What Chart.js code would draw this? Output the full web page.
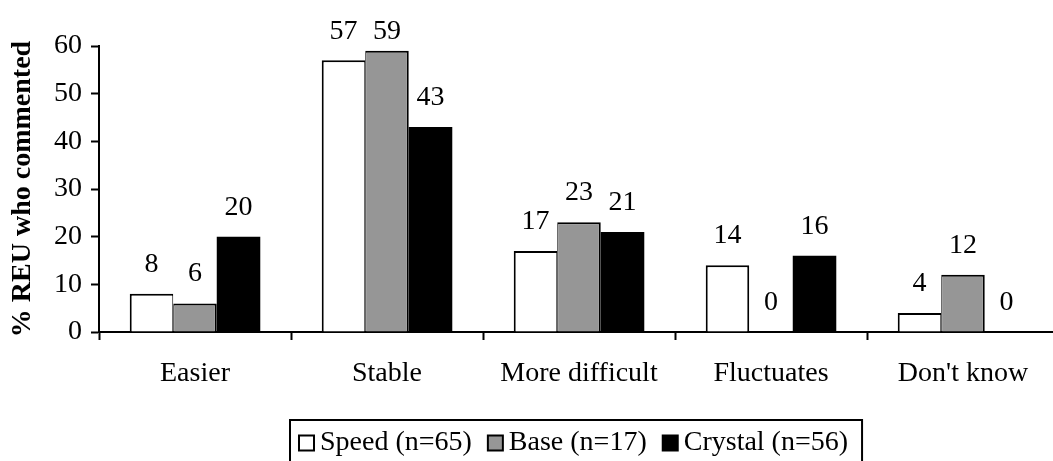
<!DOCTYPE html>
<html>
<head>
<meta charset="utf-8">
<script src="https://cdn.jsdelivr.net/npm/chart.js@4/dist/chart.umd.min.js"></script>
<style>
  html, body { margin: 0; padding: 0; background: #fff; overflow: hidden; }
  #wrap { position: relative; width: 1070px; height: 461px; }
</style>
</head>
<body>
<div id="wrap"><canvas id="c" width="1070" height="461"></canvas></div>
<script>
const categories = ['Easier', 'Stable', 'More difficult', 'Fluctuates', "Don't know"];
const speed = [8, 57, 17, 14, 4];
const base = [6, 59, 23, 0, 12];
const crystal = [20, 43, 21, 16, 0];
const seriesNames = ['Speed (n=65)', 'Base (n=17)', 'Crystal (n=56)'];
const yTicks = [0, 10, 20, 30, 40, 50, 60];
const axisTitle = '% REU who commented';

const FONT = '"Liberation Serif", "Times New Roman", serif';
const FS = 28;
const COLORS = ['#ffffff', '#969696', '#000000'];

// Value labels above each bar (kept inside the top of the canvas)
const valueLabels = {
  id: 'valueLabels',
  afterDatasetsDraw(chart) {
    const ctx = chart.ctx;
    ctx.save();
    ctx.font = FS + 'px ' + FONT;
    ctx.fillStyle = '#000';
    ctx.textAlign = 'center';
    ctx.textBaseline = 'alphabetic';
    chart.data.datasets.forEach((ds, i) => {
      chart.getDatasetMeta(i).data.forEach((el, j) => {
        const y = Math.max(el.y - 22, 39);
        ctx.fillText(String(ds.data[j]), el.x, y);
      });
    });
    ctx.restore();
  }
};

// Boxed legend under the plot
const boxLegend = {
  id: 'boxLegend',
  afterDraw(chart) {
    const ctx = chart.ctx;
    ctx.save();
    ctx.font = FS + 'px ' + FONT;
    const sq = 17, gapSq = 5, gapItem = 15, padL = 8, padR = 14;
    const widths = seriesNames.map(t => ctx.measureText(t).width);
    let content = 0;
    widths.forEach((w, i) => { content += sq + gapSq + w + (i < widths.length - 1 ? gapItem : 0); });
    const boxW = content + padL + padR;
    const left = 290, top = 420, cy = 443;
    ctx.strokeStyle = '#000';
    ctx.lineWidth = 2;
    ctx.strokeRect(left, top, boxW, 60);
    let x = left + padL;
    chart.data.datasets.forEach((ds, i) => {
      ctx.fillStyle = ds.backgroundColor;
      ctx.fillRect(x + 1, cy - sq / 2 + 1, sq - 2, sq - 2);
      ctx.lineWidth = 2;
      ctx.strokeStyle = '#000';
      ctx.strokeRect(x + 1, cy - sq / 2 + 1, sq - 2, sq - 2);
      x += sq + gapSq;
      ctx.fillStyle = '#000';
      ctx.textAlign = 'left';
      ctx.textBaseline = 'middle';
      ctx.fillText(seriesNames[i], x, cy);
      x += widths[i] + gapItem;
    });
    ctx.restore();
  }
};

new Chart(document.getElementById('c'), {
  type: 'bar',
  data: {
    labels: categories,
    datasets: [
      {
        label: seriesNames[0], data: speed, backgroundColor: COLORS[0], borderColor: '#000',
        borderSkipped: false,
        borderWidth: c => speed[c.dataIndex] === 0 ? 0 :
          { top: 2, left: 2, bottom: 0, right: base[c.dataIndex] === 0 ? 2 : 1 }
      },
      {
        label: seriesNames[1], data: base, backgroundColor: COLORS[1], borderColor: '#000',
        borderSkipped: false,
        borderWidth: c => base[c.dataIndex] === 0 ? 0 :
          { top: 2, left: speed[c.dataIndex] === 0 ? 2 : 1, bottom: 0, right: 2 }
      },
      {
        label: seriesNames[2], data: crystal, backgroundColor: COLORS[2], borderColor: '#000',
        borderWidth: 0
      }
    ]
  },
  options: {
    responsive: false,
    animation: false,
    devicePixelRatio: 1,
    layout: { padding: { left: 0, top: 46, right: 11, bottom: 0 } },
    datasets: { bar: { categoryPercentage: 0.68, barPercentage: 1 } },
    plugins: { legend: { display: false }, tooltip: { enabled: false } },
    scales: {
      x: {
        afterFit(s) { s.height = 461 - 332; },
        grid: { offset: true, drawOnChartArea: false, tickLength: 8, tickWidth: 2, tickColor: '#000' },
        border: { color: '#000', width: 2 },
        ticks: { color: '#000', padding: 17, maxRotation: 0, autoSkip: false, font: { family: FONT, size: FS } }
      },
      y: {
        min: 0, max: 60,
        afterFit(s) { s.width = 99; },
        afterBuildTicks(s) { s.ticks = yTicks.map(v => ({ value: v })); },
        grid: { drawOnChartArea: false, tickLength: 8, tickWidth: 2, tickColor: '#000' },
        border: { color: '#000', width: 2 },
        ticks: { color: '#000', padding: 9, font: { family: FONT, size: FS } },
        title: { display: true, text: axisTitle, color: '#000', padding: { top: 6, bottom: 0 },
                 font: { family: FONT, size: FS, weight: 'bold' } }
      }
    }
  },
  plugins: [valueLabels, boxLegend]
});
</script>
</body>
</html>
